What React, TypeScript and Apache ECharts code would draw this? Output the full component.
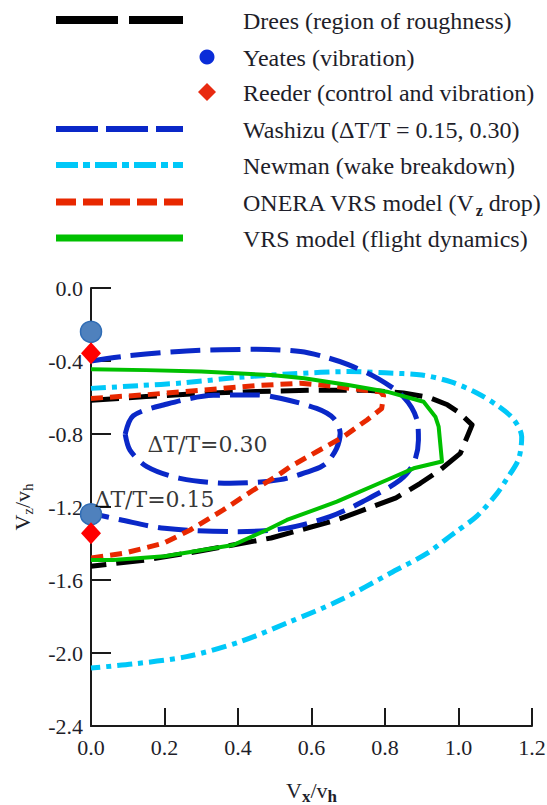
import React, { useEffect, useRef } from "react";
import * as echarts from "echarts";

// ---- data (Vx/vh, Vz/vh) ----
const drees: number[][] = [
  [0, -0.615], [0.15, -0.595], [0.3, -0.578], [0.45, -0.567], [0.6, -0.56], [0.75, -0.56],
  [0.85, -0.575], [0.92, -0.6], [0.97, -0.64], [1.0, -0.68], [1.037, -0.75], [1.005, -0.906],
  [0.95, -0.997], [0.896, -1.07], [0.83, -1.15], [0.67, -1.27], [0.49, -1.37], [0.3, -1.44],
  [0.15, -1.49], [0, -1.525],
];
const washizu15: number[][] = [
  [0, -0.4], [0.1, -0.372], [0.26, -0.345], [0.45, -0.336], [0.57, -0.348], [0.64, -0.38],
  [0.7, -0.42], [0.78, -0.495], [0.85, -0.596], [0.887, -0.723], [0.891, -0.833], [0.878, -0.96],
  [0.841, -1.052], [0.74, -1.17], [0.65, -1.253], [0.53, -1.317], [0.4, -1.335], [0.2, -1.317],
  [0.08, -1.27], [0, -1.235],
];
const washizu30: number[][] = [
  [0.093, -0.8], [0.115, -0.7], [0.197, -0.641], [0.333, -0.588], [0.45, -0.586], [0.515, -0.604],
  [0.614, -0.66], [0.66, -0.714], [0.678, -0.797], [0.668, -0.88], [0.64, -0.96], [0.605, -0.997],
  [0.515, -1.05], [0.378, -1.07], [0.242, -1.043], [0.152, -0.979], [0.106, -0.888], [0.093, -0.8],
];
const newman: number[][] = [
  [0, -0.55], [0.13, -0.535], [0.25, -0.52], [0.4, -0.49], [0.55, -0.47], [0.7, -0.458],
  [0.8, -0.465], [0.9, -0.477], [0.98, -0.515], [1.05, -0.575], [1.11, -0.65], [1.15, -0.72],
  [1.172, -0.815], [1.163, -0.94], [1.13, -1.05], [1.105, -1.125], [1.05, -1.25], [0.99, -1.34],
  [0.914, -1.454], [0.814, -1.563], [0.678, -1.71], [0.542, -1.828], [0.406, -1.938],
  [0.26, -2.02], [0.115, -2.06], [0, -2.082],
];
const onera: number[][] = [
  [0, -0.605], [0.15, -0.585], [0.3, -0.56], [0.45, -0.535], [0.57, -0.522], [0.67, -0.54],
  [0.74, -0.559], [0.787, -0.568], [0.796, -0.59], [0.791, -0.66], [0.751, -0.723], [0.687, -0.815],
  [0.614, -0.897], [0.542, -0.979], [0.506, -1.03], [0.442, -1.107], [0.36, -1.216], [0.27, -1.326],
  [0.197, -1.399], [0.088, -1.454], [0, -1.48],
];
const vrs: number[][] = [
  [0, -0.445], [0.15, -0.45], [0.3, -0.458], [0.49, -0.477], [0.58, -0.495], [0.7, -0.532],
  [0.805, -0.568], [0.905, -0.623], [0.937, -0.705], [0.946, -0.76], [0.955, -0.951], [0.878, -0.988],
  [0.805, -1.052], [0.669, -1.171], [0.533, -1.271], [0.478, -1.326], [0.387, -1.408], [0.2, -1.47],
  [0.06, -1.49], [0, -1.49],
];
const yeates: number[][] = [[0, -0.24], [0, -1.24]];
const reeder: number[][] = [[0, -0.358], [0, -1.344]];
const annotations = [
  { text: "ΔT/T=0.30", x: 0.155, y: -0.86 },
  { text: "ΔT/T=0.15", x: 0.011, y: -1.162 },
];

const legendNames = [
  "Drees (region of roughness)",
  "Yeates (vibration)",
  "Reeder (control and vibration)",
  "Washizu (ΔT/T = 0.15, 0.30)",
  "Newman (wake breakdown)",
  "ONERA VRS model (V{sub|z} drop)",
  "VRS model (flight dynamics)",
];

const C_BLACK = "#000000";
const C_BLUE = "#0a28c8";
const C_CYAN = "#00c8f8";
const C_RED = "#e82800";
const C_GREEN = "#00c000";

const SERIF = "Liberation Serif";

function buildLegend() {
  const rowY = [20, 57, 92, 129, 165, 202, 238];
  const x1 = 56;
  const x2 = 183;
  const children: any[] = [];
  const lineKinds: any[] = [
    { color: C_BLACK, width: 8, dash: [62, 11] },
    { marker: "circle", color: "#0a2cd8" },
    { marker: "diamond", color: "#e82a10" },
    { color: C_BLUE, width: 6, dash: [42, 8] },
    { color: C_CYAN, width: 6, dash: [22, 5, 7, 5] },
    { color: C_RED, width: 7, dash: [20, 7] },
    { color: C_GREEN, width: 7, dash: null },
  ];
  lineKinds.forEach((k, i) => {
    const y = rowY[i];
    if (k.marker === "circle") {
      children.push({ type: "circle", shape: { cx: 207, cy: y, r: 7.5 }, style: { fill: k.color } });
    } else if (k.marker === "diamond") {
      children.push({
        type: "polygon",
        shape: { points: [[207, y - 9], [216, y], [207, y + 9], [198, y]] },
        style: { fill: k.color },
      });
    } else {
      children.push({
        type: "line",
        shape: { x1, y1: y, x2, y2: y },
        style: { stroke: k.color, lineWidth: k.width, lineDash: k.dash || undefined, lineCap: "butt" },
      });
    }
    children.push({
      type: "text",
      x: 243,
      y: y + 1,
      style: {
        text: legendNames[i],
        fill: "#1e1e2a",
        font: `24px "${SERIF}"`,
        fontFamily: SERIF,
        fontSize: 24,
        verticalAlign: "middle",
        align: "left",
        rich: {
          sub: { fontFamily: SERIF, fontSize: 16, fontWeight: "bold", fill: "#1e1e2a", padding: [14, 0, 0, 0] },
        },
      },
    });
  });
  return children;
}

function lineSeries(name: string, data: number[][], color: string, width: number, dash: any, smooth: number | boolean) {
  return {
    type: "line",
    name,
    data,
    symbol: "none",
    smooth,
    clip: false,
    lineStyle: { color, width, type: dash, cap: "butt", join: "round" },
    z: 2,
  };
}

export default function App() {
  const ref = useRef<HTMLDivElement>(null);
  useEffect(() => {
    document.body.style.margin = "0";
    const chart = echarts.init(ref.current!, null, { renderer: "svg" });
    const labelStyle = { fontFamily: SERIF, fontSize: 22, color: "#1e1e2a" };
    chart.setOption({
      animation: false,
      grid: { left: 91, right: 15, top: 288, bottom: 79, containLabel: false, outerBoundsMode: "none" },
      xAxis: {
        type: "value",
        min: 0,
        max: 1.2,
        interval: 0.2,
        axisLine: { show: true, onZero: false, lineStyle: { color: "#1a1a1a", width: 2 } },
        axisTick: { show: true, inside: true, length: 18, lineStyle: { color: "#1a1a1a", width: 2 } },
        splitLine: { show: false },
        axisLabel: { ...labelStyle, margin: 10, formatter: (v: number) => v.toFixed(1) },
        name: "{m|V}{s|x}{m|/v}{s|h}",
        nameLocation: "middle",
        nameGap: 50,
        nameTextStyle: {
          rich: {
            m: { fontFamily: SERIF, fontSize: 22, color: "#1e1e2a" },
            s: { fontFamily: SERIF, fontSize: 17, fontWeight: "bold", color: "#1e1e2a", padding: [12, 0, 0, 0] },
          },
        },
      },
      yAxis: {
        type: "value",
        min: -2.4,
        max: 0,
        interval: 0.4,
        axisLine: { show: true, onZero: false, lineStyle: { color: "#1a1a1a", width: 2 } },
        axisTick: { show: true, inside: true, length: 20, lineStyle: { color: "#1a1a1a", width: 2 } },
        splitLine: { show: false },
        axisLabel: { ...labelStyle, margin: 8, formatter: (v: number) => v.toFixed(1) },
        name: "{m|V}{s|z}{m|/v}{s|h}",
        nameLocation: "middle",
        nameGap: 56,
        nameTextStyle: {
          rich: {
            m: { fontFamily: SERIF, fontSize: 22, color: "#1e1e2a" },
            s: { fontFamily: SERIF, fontSize: 15, color: "#1e1e2a", padding: [10, 0, 0, 0] },
          },
        },
      },
      graphic: buildLegend(),
      series: [
        lineSeries("Newman (wake breakdown)", newman, C_CYAN, 5, [15, 6, 5, 6], 0.3),
        lineSeries("Drees (region of roughness)", drees, C_BLACK, 5, [28, 10], false),
        lineSeries("Washizu (ΔT/T = 0.15)", washizu15, C_BLUE, 5, [30, 10], 0.3),
        lineSeries("Washizu (ΔT/T = 0.30)", washizu30, C_BLUE, 5, [30, 10], 0.3),
        lineSeries("ONERA VRS model (Vz drop)", onera, C_RED, 5, [12, 7], false),
        lineSeries("VRS model (flight dynamics)", vrs, C_GREEN, 4, "solid", false),
        {
          type: "scatter",
          name: "Yeates (vibration)",
          data: yeates,
          symbol: "circle",
          symbolSize: 21,
          clip: false,
          itemStyle: { color: "#4f81bd", borderColor: "#2f6cb5", borderWidth: 1.5, opacity: 1 },
          z: 5,
        },
        {
          type: "scatter",
          name: "Reeder (control and vibration)",
          data: reeder,
          symbol: "diamond",
          symbolSize: [20, 22],
          clip: false,
          itemStyle: { color: "#ff0000", opacity: 1 },
          z: 5,
        },
        {
          type: "scatter",
          name: "annotations",
          data: annotations.map((a) => ({ value: [a.x, a.y], label: { formatter: a.text } })),
          symbolSize: 1,
          clip: false,
          itemStyle: { color: "rgba(0,0,0,0)" },
          label: {
            show: true,
            position: [0, 0],
            align: "left",
            verticalAlign: "middle",
            fontFamily: "DejaVu Serif",
            fontSize: 22,
            color: "#000",
          },
          z: 6,
        },
      ],
    });
    return () => chart.dispose();
  }, []);
  return <div ref={ref} style={{ width: 547, height: 805 }} />;
}
